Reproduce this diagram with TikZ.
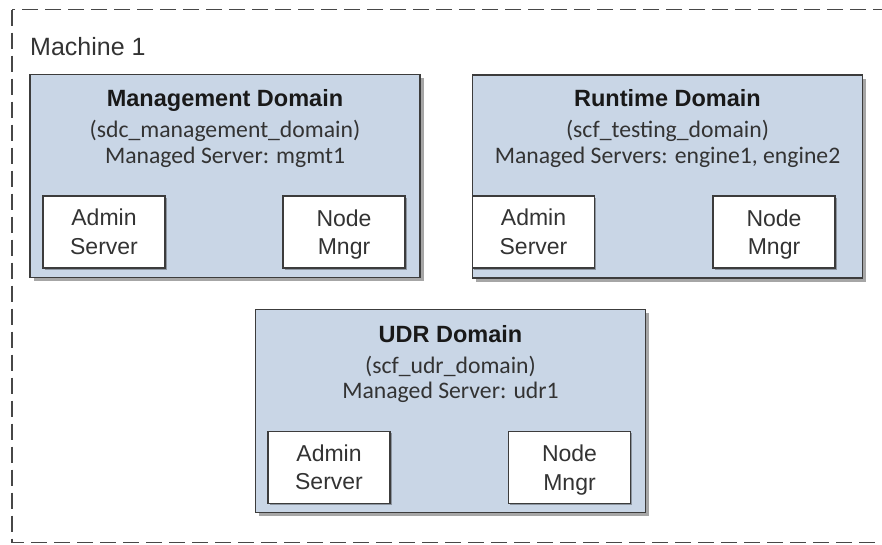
\documentclass[tikz,border=0pt]{standalone}
\usepackage{fontspec}
\setmainfont{Liberation Sans}
\newfontfamily\calfont{Carlito}
\usetikzlibrary{shadows}
\definecolor{domfill}{HTML}{C9D6E6}
\definecolor{boxline}{HTML}{3C3C3C}
\definecolor{txt}{HTML}{333333}
\begin{document}
\begin{tikzpicture}[x=1pt,y=-1pt,
  dombox/.style={draw=boxline, line width=1.4pt, fill=domfill, inner sep=0pt,
    minimum width=390pt, minimum height=203pt,
    drop shadow={shadow xshift=3.5pt, shadow yshift=-3.5pt, fill=black, opacity=0.35}},
  srvbox/.style={draw=boxline, line width=1.3pt, fill=white, inner sep=0pt,
    minimum width=122pt, minimum height=72pt, align=center,
    font=\fontsize{23}{28.5}\selectfont, text=txt,
    drop shadow={shadow xshift=1.5pt, shadow yshift=-1.5pt, fill=black, opacity=0.3}},
  ttltext/.style={anchor=base, inner sep=0pt, font=\fontsize{23.5}{28}\selectfont\bfseries, text=black!90},
  subtext/.style={anchor=base, inner sep=0pt, font=\calfont\fontsize{23.7}{28}\selectfont, text=txt},
  outerbox/.style={dash pattern=on 16pt off 7pt, line width=1.9pt, draw=black!72}
  ]
\clip (0,0) rectangle (882,544);
\useasboundingbox (0,0) rectangle (882,544);
\draw[outerbox] (12,9.5) rectangle (895,542.5);
\node[anchor=base west, inner sep=0pt, font=\fontsize{25}{29}\selectfont, text=txt] (m1) at (30,55) {Machine 1};

% Management domain
\node[dombox] (mgmt) at (225,176) {};
\node[ttltext] (mgmtT) at (225,106) {Management Domain};
\node[subtext] (mgmtS) at (225,137) {(sdc\_management\_domain)};
\node[subtext] (mgmtM) at (225,163) {Managed Server: mgmt1};
\node[srvbox] (mA) at (104,232) {Admin\\Server};
\node[srvbox] (mN) at (344,232) {Node\\\smash{Mngr}};

% Runtime domain
\node[dombox] (rt) at (667.5,176.5) {};
\node[ttltext] (rtT) at (667.5,106) {Runtime Domain};
\node[subtext] (rtS) at (667.5,137) {(scf\_testing\_domain)};
\node[subtext] (rtM) at (667.5,163) {Managed Servers: engine1, engine2};
\node[srvbox] (rA) at (533.5,232) {Admin\\Server};
\node[srvbox] (rN) at (774,232) {Node\\\smash{Mngr}};

% UDR domain
\node[dombox] (udr) at (450.5,411) {};
\node[ttltext] (udrT) at (450.5,342) {UDR Domain};
\node[subtext] (udrS) at (450.5,373) {(scf\_udr\_domain)};
\node[subtext] (udrM) at (450.5,398) {Managed Server: udr1};
\node[srvbox] (uA) at (329,467.5) {Admin\\Server};
\node[srvbox] (uN) at (569.5,467.5) {Node\\\smash{Mngr}};
\end{tikzpicture}
\end{document}
